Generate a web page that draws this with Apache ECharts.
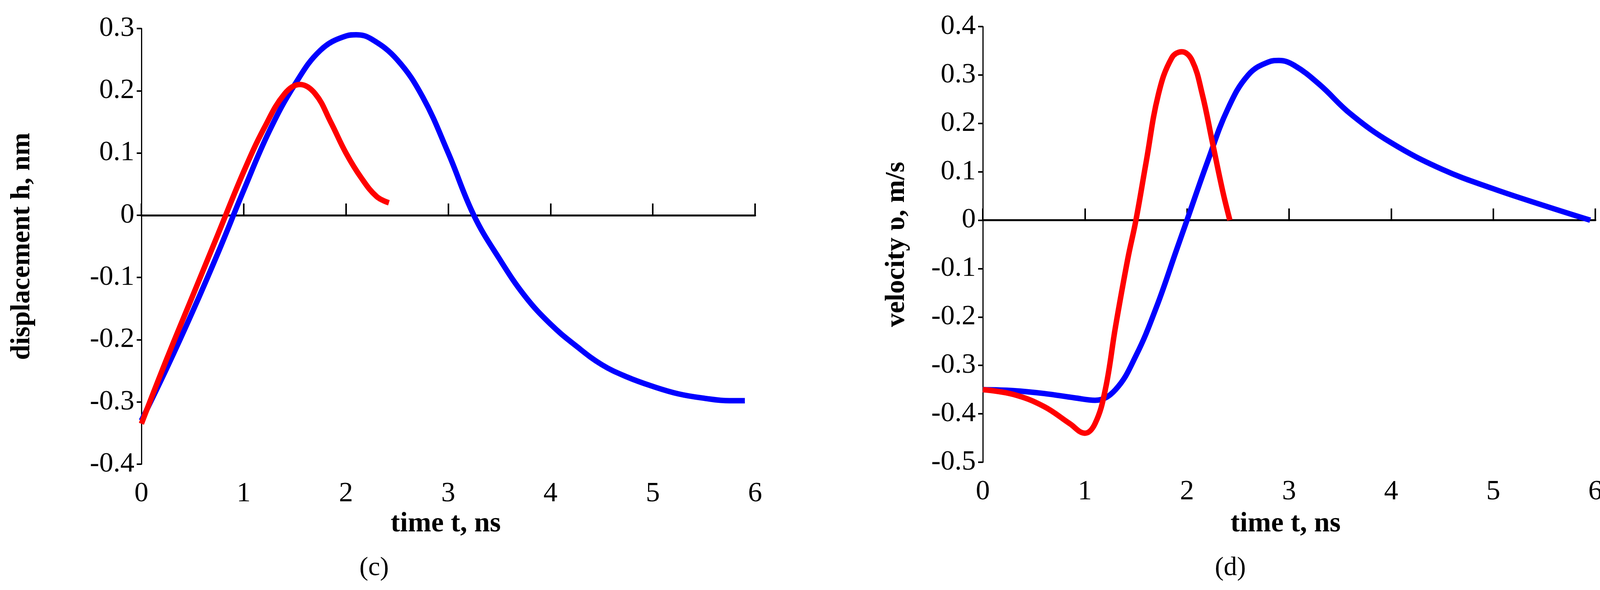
<!DOCTYPE html>
<html>
<head>
<meta charset="utf-8">
<script src="https://cdn.jsdelivr.net/npm/echarts@6/dist/echarts.min.js"></script>
<style>html,body{margin:0;background:#fff}#c{width:4120px;height:1510px}</style>
</head>
<body>
<div id="c"></div>
<script>
// displacement (c)
const dispBlue = [[0,-0.33],[0.25,-0.245],[0.5,-0.155],[0.75,-0.06],[1,0.04],[1.25,0.135],[1.5,0.21],[1.75,0.265],[2,0.288],[2.1,0.29],[2.25,0.283],[2.5,0.25],[2.75,0.19],[3,0.1],[3.25,0.0],[3.5,-0.07],[3.75,-0.13],[4,-0.175],[4.25,-0.21],[4.5,-0.24],[4.75,-0.26],[5,-0.275],[5.25,-0.287],[5.5,-0.294],[5.75,-0.298],[5.9,-0.298]];
const dispRed = [[0,-0.335],[0.25,-0.23],[0.5,-0.13],[0.75,-0.03],[1,0.07],[1.2,0.14],[1.4,0.195],[1.55,0.21],[1.7,0.195],[1.85,0.15],[2,0.1],[2.15,0.06],[2.3,0.03],[2.42,0.02]];
// velocity (d)
const velBlue = [[0,-0.35],[0.3,-0.352],[0.6,-0.358],[0.9,-0.367],[1.1,-0.372],[1.3,-0.35],[1.5,-0.28],[1.7,-0.18],[1.9,-0.06],[2,0.0],[2.2,0.12],[2.4,0.23],[2.6,0.3],[2.8,0.327],[2.9,0.33],[3.05,0.32],[3.3,0.28],[3.6,0.22],[4,0.16],[4.5,0.105],[5,0.065],[5.5,0.03],[5.95,0.0]];
const velRed = [[0,-0.35],[0.3,-0.36],[0.6,-0.385],[0.85,-0.42],[1.0,-0.44],[1.1,-0.42],[1.2,-0.35],[1.3,-0.22],[1.42,-0.08],[1.5,0.0],[1.6,0.12],[1.72,0.26],[1.85,0.335],[1.95,0.348],[2.05,0.33],[2.15,0.26],[2.25,0.16],[2.35,0.06],[2.42,0.0]];

const font = 'Liberation Serif';
const chart = echarts.init(document.getElementById('c'));
function xAx(i) {
  return { type: 'value', gridIndex: i, min: 0, max: 6, interval: 1,
    axisLine: { onZero: true, lineStyle: { color: '#000', width: 5 } },
    axisTick: { inside: true, length: 30, lineStyle: { color: '#000', width: 4 } },
    axisLabel: { color: '#000', fontFamily: font, fontSize: 72, margin: 40 },
    splitLine: { show: false } };
}
function yAx(i, min, max, name) {
  return { type: 'value', gridIndex: i, min: min, max: max, interval: 0.1,
    name: name, nameLocation: 'middle', nameGap: i === 0 ? 270 : 185,
    nameTextStyle: { fontFamily: font, fontSize: 70, fontWeight: 'bold', color: '#000' },
    axisLine: { show: true, onZero: false, lineStyle: { color: '#000', width: 3 } },
    axisTick: { show: true, length: 12, lineStyle: { color: '#000', width: 4 } },
    axisLabel: { color: '#000', fontFamily: font, fontSize: 72, margin: 18,
      formatter: v => (Math.round(v * 10) / 10).toString() },
    splitLine: { show: false } };
}
function line(data, color, xi) {
  return { type: 'line', xAxisIndex: xi, yAxisIndex: xi, data: data, smooth: 0.4,
    showSymbol: false, lineStyle: { color: color, width: 14 }, z: color === '#ff0000' ? 3 : 2 };
}
chart.setOption({
  animation: false,
  grid: [
    { left: 362, width: 1571, top: 73, height: 1115 },
    { left: 2516, width: 1568, top: 68, height: 1115 }
  ],
  xAxis: [xAx(0), xAx(1)],
  yAxis: [yAx(0, -0.4, 0.3, 'displacement h, nm'), yAx(1, -0.5, 0.4, 'velocity υ, m/s')],
  series: [
    line(dispBlue, '#0000ff', 0), line(dispRed, '#ff0000', 0),
    line(velBlue, '#0000ff', 1), line(velRed, '#ff0000', 1)
  ],
  graphic: [
    { type: 'text', left: 1000, top: 1305, style: { text: 'time t, ns', font: 'bold 72px "Liberation Serif"', fill: '#000' } },
    { type: 'text', left: 3150, top: 1305, style: { text: 'time t, ns', font: 'bold 72px "Liberation Serif"', fill: '#000' } },
    { type: 'text', left: 920, top: 1420, style: { text: '(c)', font: '68px "Liberation Serif"', fill: '#000' } },
    { type: 'text', left: 3110, top: 1420, style: { text: '(d)', font: '68px "Liberation Serif"', fill: '#000' } }
  ]
});
</script>
</body>
</html>
